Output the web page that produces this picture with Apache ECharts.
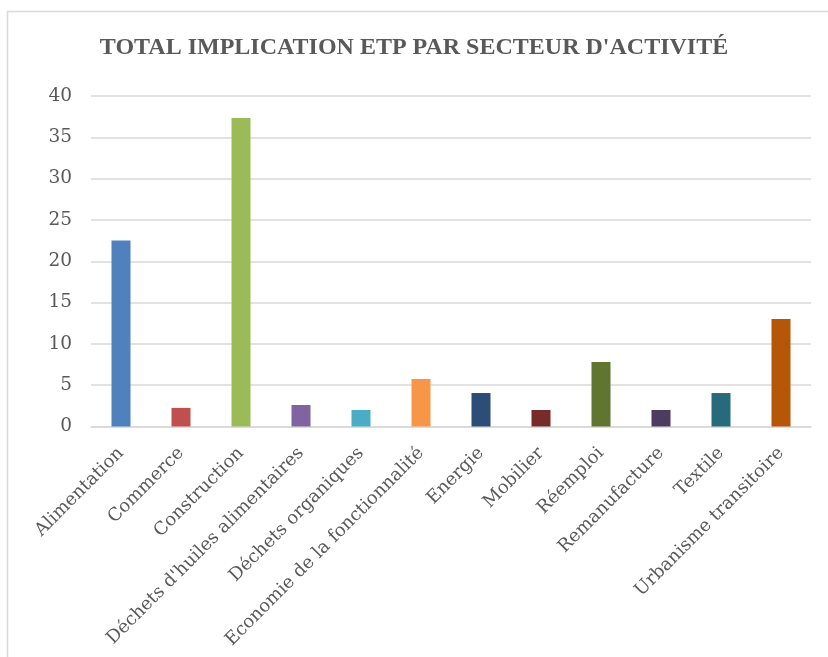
<!DOCTYPE html>
<html><head><meta charset="utf-8">
<script src="https://cdn.jsdelivr.net/npm/echarts@6/dist/echarts.min.js"></script>
<style>html,body{margin:0;padding:0;background:#fff}#c{width:828px;height:657px}</style>
</head><body><div id="c"></div>
<script>
const categories = ["Alimentation","Commerce","Construction","Déchets d'huiles alimentaires","Déchets organiques","Economie de la fonctionnalité","Energie","Mobilier","Réemploi","Remanufacture","Textile","Urbanisme transitoire"];
const values = [22.5, 2.25, 37.35, 2.6, 2.0, 5.75, 4.05, 2.0, 7.8, 2.0, 4.05, 13.0];
const colors = ["#4F81BD","#C0504D","#9BBB59","#8064A2","#4BACC6","#F79646","#2C4D75","#772C2A","#5F7530","#4D3B62","#276A7C","#B65708"];
const titleText = "TOTAL IMPLICATION ETP PAR SECTEUR D'ACTIVITÉ";

const chart = echarts.init(document.getElementById('c'), null, {renderer:'canvas'});
const font = "'DejaVu Serif', serif";
chart.setOption({
  animation:false,
  backgroundColor:'#fff',
  graphic:[{type:'rect', shape:{x:7.5,y:11.5,width:900,height:900}, style:{fill:'none', stroke:'#d9d9d9', lineWidth:1.5}}],
  title:{text:titleText, left:'center', top:31, textStyle:{fontFamily:"'Liberation Serif', serif", fontWeight:'bold', fontSize:24, color:'#595959'}},
  grid:{left:91, right:17, top:96, bottom:230.5, containLabel:false, outerBoundsMode:'none'},
  xAxis:{type:'category', data:categories,
    axisLine:{lineStyle:{color:'#d9d9d9', width:1.5}}, axisTick:{show:false},
    axisLabel:{rotate:45, interval:0, margin:24, fontFamily:font, fontSize:18, color:'#595959'}},
  yAxis:{type:'value', min:0, max:40, interval:5,
    axisLine:{show:false}, axisTick:{show:false},
    splitLine:{lineStyle:{color:'#d9d9d9', width:1.5}},
    axisLabel:{margin:19, fontFamily:font, fontSize:18.5, color:'#595959'}},
  series:[{type:'bar', data:values.map((v,i)=>({value:v, itemStyle:{color:colors[i]}})), barWidth:19}]
});
</script></body></html>
